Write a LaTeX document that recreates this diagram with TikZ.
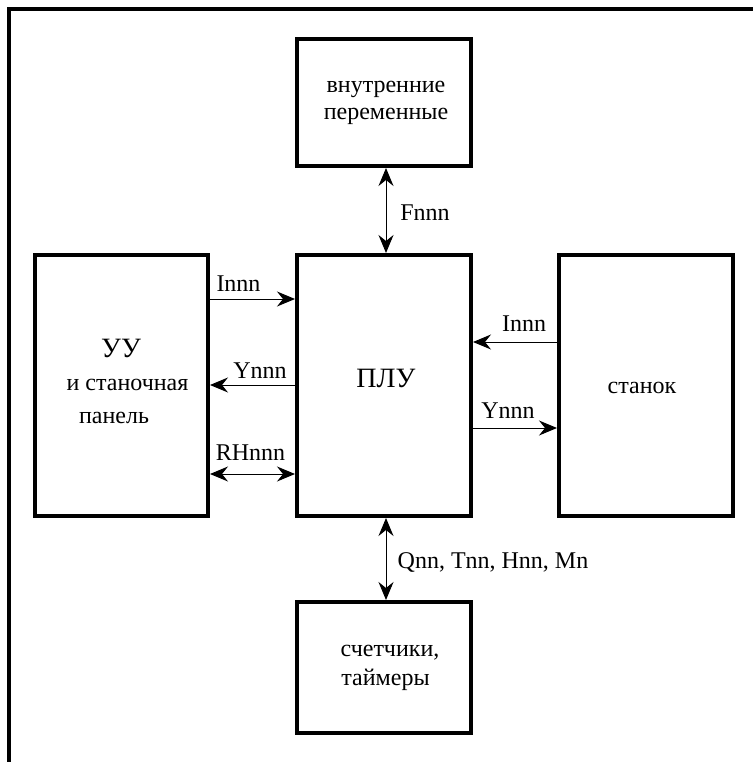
\documentclass[tikz,border=0pt]{standalone}
\usepackage{fontspec}
\setmainfont{Liberation Serif}
\usetikzlibrary{arrows.meta}
\begin{document}
\begin{tikzpicture}[x=1pt,y=-1pt,
  blk/.style={draw,line width=4pt,minimum width=174pt,inner sep=0pt},
  tall/.style={blk,minimum height=261pt},
  short/.style={blk,minimum height=127pt},
  txt/.style={font=\fontsize{24}{27}\selectfont,inner sep=0pt,anchor=base},
  big/.style={font=\fontsize{28}{32}\selectfont,inner sep=0pt,anchor=base},
  tip/.tip={Stealth[length=18pt,width=15pt,inset=6pt]},
  conn/.style={line width=1pt,-tip},
  bconn/.style={line width=1pt,tip-tip}]
\useasboundingbox (0,0) rectangle (753,762);
% outer frame
\draw[line width=4pt] (9,762) -- (9,9.5) -- (753,9.5);
% boxes
\node[short] (T) at (384,102.5) {};
\node[tall]  (C) at (384,385.5) {};
\node[tall,minimum width=173pt] (L) at (121.5,385.5) {};
\node[tall]  (R) at (646,385.5) {};
\node[short,minimum height=131pt] (B) at (384,667.5) {};
% box texts
\node[txt] (t1) at (386,93) {внутренние};
\node[txt] (t2) at (386,120) {переменные};
\node[big] (c1) at (386,387) {ПЛУ};
\node[big] (l1) at (121,357) {УУ};
\node[txt] (l2) at (127.5,390.5) {и станочная};
\node[txt] (l3) at (114,423) {панель};
\node[txt] (r1) at (642,393) {станок};
\node[txt] (b1) at (390,656.5) {счетчики,};
\node[txt] (b2) at (385.5,685) {таймеры};
% connectors
\draw[conn]  (L.east |- 0,299) -- (C.west |- 0,299);
\draw[conn]  (C.west |- 0,385) -- (L.east |- 0,385);
\draw[bconn] (L.east |- 0,474) -- (C.west |- 0,474);
\draw[conn]  (R.west |- 0,342) -- (C.east |- 0,342);
\draw[conn]  (C.east |- 0,428) -- (R.west |- 0,428);
\draw[bconn] (T.south -| 386,0) -- (C.north -| 386,0);
\draw[bconn] (C.south -| 386,0) -- (B.north -| 386,0);
% labels
\node[txt] (a1) at (238.5,291.5) {Innn};
\node[txt] (a2) at (260,378) {Ynnn};
\node[txt] (a3) at (250.5,460) {RHnnn};
\node[txt] (a4) at (524,331.5) {Innn};
\node[txt] (a5) at (508,418) {Ynnn};
\node[txt] (a6) at (425,220) {Fnnn};
\node[txt] (a7) at (493,568) {Qnn, Tnn, Hnn, Mn};
\end{tikzpicture}
\end{document}
